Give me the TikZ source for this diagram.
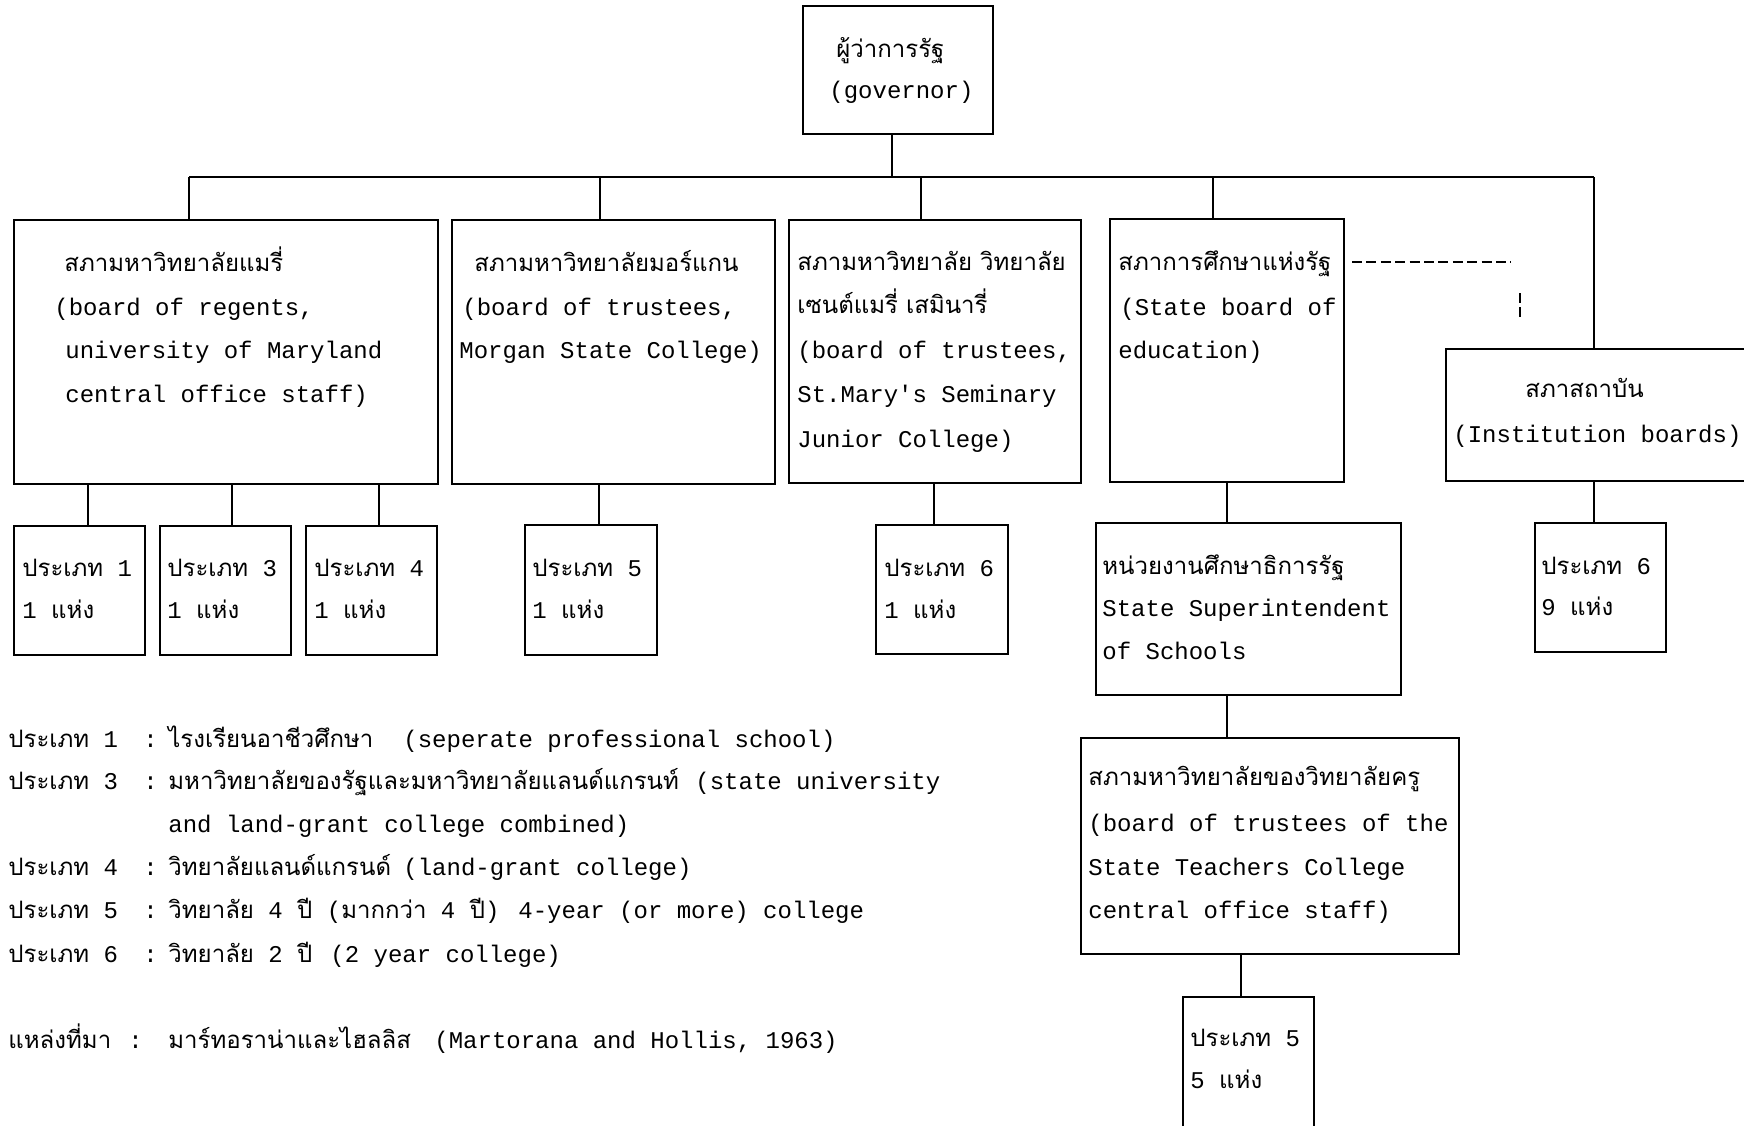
\documentclass[tikz,border=0pt]{standalone}
\usepackage{fontspec}
\setmainfont{Liberation Mono}
\setmonofont{Liberation Mono}
\newfontfamily\thaifont[Script=Thai]{Loma}
\usetikzlibrary{fit}
\newcommand\tht[1]{{\thaifont #1}}
\newcommand\tl[4]{\node[txt] (#1) at (#2,#3) {#4};}
\newcommand\vlink[4]{\coordinate (#1) at (#2,0);\draw[link] (#1 |- #3.south) -- (#1 |- #4.north);}
\begin{document}
\begin{tikzpicture}[x=0.5pt,y=-0.5pt,
  box/.style={draw, line width=0.8pt, inner sep=0pt},
  txt/.style={anchor=base west, inner sep=0pt, font=\ttfamily\fontsize{12.0}{14}\selectfont},
  link/.style={line width=0.7pt},
  dline/.style={line width=0.8pt, dash pattern=on 5pt off 2.2pt}]
\useasboundingbox (0,0) rectangle (1744,1125);
\clip (0,0) rectangle (1744,1125);
\fill[white] (0,0) rectangle (1744,1125);
% boxes
\node[box, fit={(803,6) (993,134)}] (gov) {};
\node[box, fit={(14,220) (438,484)}] (A) {};
\node[box, fit={(452,220) (775,484)}] (B) {};
\node[box, fit={(789,220) (1081,483)}] (C) {};
\node[box, fit={(1110,219) (1344,482)}] (D) {};
\node[box, fit={(1446,349) (1764,481)}] (E) {};
\node[box, fit={(14,526) (145,655)}] (a1) {};
\node[box, fit={(160,526) (291,655)}] (a3) {};
\node[box, fit={(306,526) (437,655)}] (a4) {};
\node[box, fit={(525,525) (657,655)}] (b5) {};
\node[box, fit={(876,525) (1008,654)}] (c6) {};
\node[box, fit={(1096,523) (1401,695)}] (sup) {};
\node[box, fit={(1535,523) (1666,652)}] (e6) {};
\node[box, fit={(1081,738) (1459,954)}] (tch) {};
\node[box, fit={(1183,997) (1314,1145)}] (p5) {};
% connectors
\coordinate (busL) at (189,177);
\coordinate (busR) at (1594,177);
\coordinate (busG) at (892,177);
\coordinate (busB) at (600,177);
\coordinate (busC) at (921,177);
\coordinate (busD) at (1213,177);
\draw[link] (busG |- gov.south) -- (busG);
\draw[link] (busL) -- (busR);
\draw[link] (busL) -- (busL |- A.north);
\draw[link] (busB) -- (busB |- B.north);
\draw[link] (busC) -- (busC |- C.north);
\draw[link] (busD) -- (busD |- D.north);
\draw[link] (busR) -- (busR |- E.north);
\vlink{xa1}{88}{A}{a1}
\vlink{xa3}{232}{A}{a3}
\vlink{xa4}{379}{A}{a4}
\vlink{xb5}{599}{B}{b5}
\vlink{xc6}{934}{C}{c6}
\vlink{xd}{1227}{D}{sup}
\vlink{xe}{1594}{E}{e6}
\vlink{xs}{1227}{sup}{tch}
\vlink{xt}{1241}{tch}{p5}
\coordinate (dh1) at (1352,262);
\coordinate (dh2) at (1511,262);
\coordinate (dv1) at (1520,293);
\coordinate (dv2) at (1520,318);
\draw[dline] (dh1) -- (dh2);
\draw[line width=0.8pt, dash pattern=on 5pt off 2pt] (dv1) -- (dv2);
% texts in boxes
\tl{g1}{836}{57}{\tht{ผู้ว่าการรัฐ}}
\tl{g2}{829}{98}{(governor)}
\tl{A1}{64}{271}{\tht{สภามหาวิทยาลัยแมรี่}}
\tl{A2}{54}{315}{(board of regents,}
\tl{A3}{65}{358}{university of Maryland}
\tl{A4}{65}{402}{central office staff)}
\tl{B1}{474}{271}{\tht{สภามหาวิทยาลัยมอร์แกน}}
\tl{B2}{462}{315}{(board of trustees,}
\tl{B3}{459}{358}{Morgan State College)}
\tl{C1}{797}{270}{\tht{สภามหาวิทยาลัย วิทยาลัย}}
\tl{C2}{797}{313}{\tht{เซนต์แมรี่ เสมินารี่}}
\tl{C3}{797}{358}{(board of trustees,}
\tl{C4}{797}{402}{St.Mary's Seminary}
\tl{C5}{797}{447}{Junior College)}
\tl{D1}{1118}{270}{\tht{สภาการศึกษาแห่งรัฐ}}
\tl{D2}{1120}{315}{(State board of}
\tl{D3}{1118}{358}{education)}
\tl{E1}{1525}{397}{\tht{สภาสถาบัน}}
\tl{E2}{1453}{442}{(Institution boards)}
\tl{a1t}{22}{576}{\tht{ประเภท} 1}
\tl{a1u}{22}{618}{1 \tht{แห่ง}}
\tl{a3t}{167}{576}{\tht{ประเภท} 3}
\tl{a3u}{167}{618}{1 \tht{แห่ง}}
\tl{a4t}{314}{576}{\tht{ประเภท} 4}
\tl{a4u}{314}{618}{1 \tht{แห่ง}}
\tl{b5t}{532}{576}{\tht{ประเภท} 5}
\tl{b5u}{532}{618}{1 \tht{แห่ง}}
\tl{c6t}{884}{576}{\tht{ประเภท} 6}
\tl{c6u}{884}{618}{1 \tht{แห่ง}}
\tl{e6t}{1541}{574}{\tht{ประเภท} 6}
\tl{e6u}{1541}{615}{9 \tht{แห่ง}}
\tl{s1}{1102}{574}{\tht{หน่วยงานศึกษาธิการรัฐ}}
\tl{s2}{1102}{616}{State Superintendent}
\tl{s3}{1102}{659}{of Schools}
\tl{t1}{1088}{785}{\tht{สภามหาวิทยาลัยของวิทยาลัยครู}}
\tl{t2}{1088}{831}{(board of trustees of the}
\tl{t3}{1088}{875}{State Teachers College}
\tl{t4}{1088}{918}{central office staff)}
\tl{p1}{1190}{1046}{\tht{ประเภท} 5}
\tl{p2}{1190}{1088}{5 \tht{แห่ง}}
% legend
\tl{l1a}{8}{747}{\tht{ประเภท} 1}
\tl{l1b}{143}{747}{:}
\tl{l1c}{168}{747}{\tht{ไรงเรียนอาชีวศึกษา}}
\tl{l1d}{403}{747}{(seperate professional school)}
\tl{l2a}{8}{789}{\tht{ประเภท} 3}
\tl{l2b}{143}{789}{:}
\tl{l2c}{168}{789}{\tht{มหาวิทยาลัยของรัฐและมหาวิทยาลัยแลนด์แกรนท์}}
\tl{l2d}{695}{789}{(state university}
\tl{l3}{168}{832}{and land-grant college combined)}
\tl{l4a}{8}{875}{\tht{ประเภท} 4}
\tl{l4b}{143}{875}{:}
\tl{l4c}{168}{875}{\tht{วิทยาลัยแลนด์แกรนด์}}
\tl{l4d}{403}{875}{(land-grant college)}
\tl{l5a}{8}{918}{\tht{ประเภท} 5}
\tl{l5b}{143}{918}{:}
\tl{l5c}{168}{918}{\tht{วิทยาลัย} 4 \tht{ปี} (\tht{มากกว่า} 4 \tht{ปี})}
\tl{l5d}{518}{918}{4-year (or more) college}
\tl{l6a}{8}{962}{\tht{ประเภท} 6}
\tl{l6b}{143}{962}{:}
\tl{l6c}{168}{962}{\tht{วิทยาลัย} 2 \tht{ปี}}
\tl{l6d}{330}{962}{(2 year college)}
\tl{sa}{8}{1048}{\tht{แหล่งที่มา}}
\tl{sb}{128}{1048}{:}
\tl{sc}{168}{1048}{\tht{มาร์ทอราน่าและไฮลลิส}}
\tl{sd}{434}{1048}{(Martorana and Hollis, 1963)}
\end{tikzpicture}
\end{document}
